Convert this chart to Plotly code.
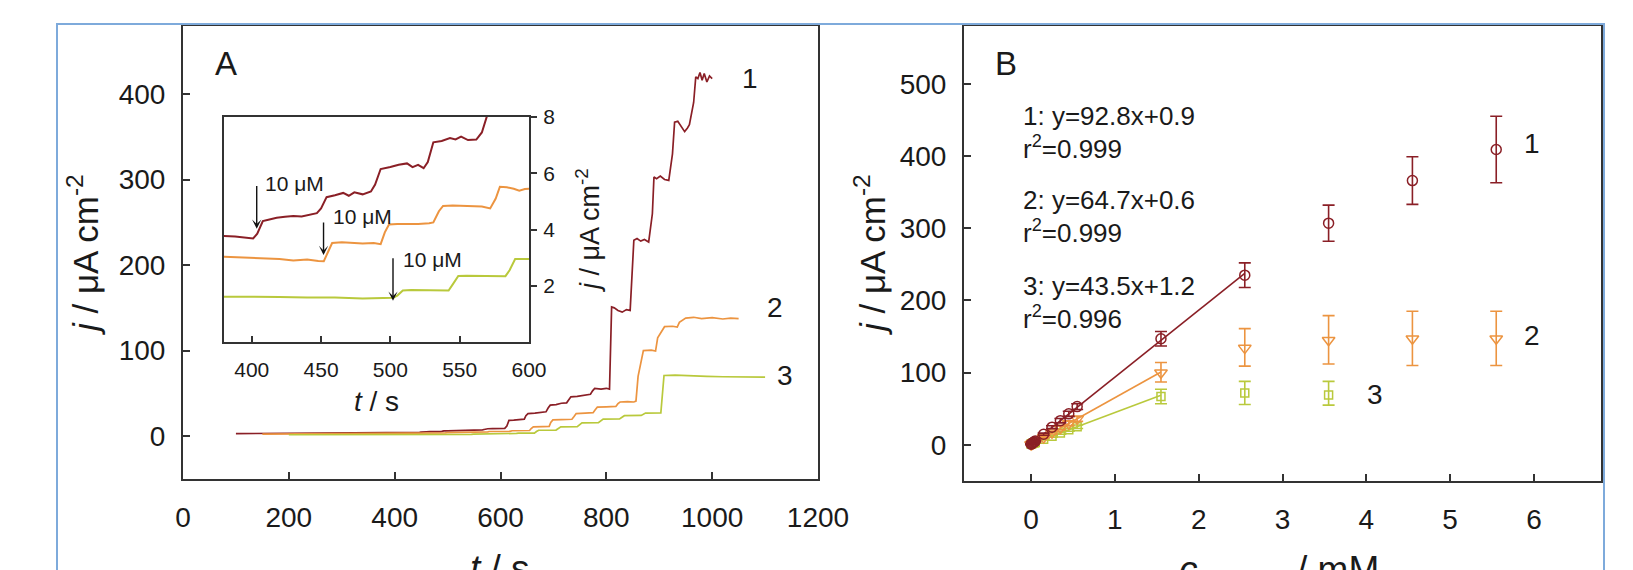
import plotly.graph_objects as go

W, H = 1633, 570

# ---------------- data: panel A (amperometric curves) ----------------
t1 = [100, 150, 200, 250, 300, 350, 380, 388, 395, 401, 404, 408, 412, 418, 424, 430, 436, 442, 447,
      450, 454, 460, 466, 470, 474, 480, 486, 489, 493, 500, 506, 512, 516, 520, 524, 527, 531, 537,
      543, 547, 551, 556, 562, 566, 569, 572, 576, 585, 600, 608, 612, 616, 625, 635, 645, 648, 652,
      665, 675, 686, 690, 694, 705, 715, 725, 729, 733, 745, 758, 770, 774, 778, 790, 800, 806, 808,
      810, 815, 822, 830, 838, 845, 849, 852, 858, 865, 872, 880, 887, 890, 895, 902, 910, 918, 925,
      929, 935, 942, 948, 953, 957, 965, 969, 973, 977, 981, 985, 990, 995, 1000]
j1 = [3.0, 3.1, 3.2, 3.3, 3.4, 3.6, 3.77, 3.75, 3.70, 3.68, 3.85, 4.30, 4.35, 4.42, 4.45, 4.48, 4.46,
      4.52, 4.58, 4.75, 5.15, 5.22, 5.30, 5.20, 5.32, 5.25, 5.35, 5.60, 6.15, 6.22, 6.30, 6.35, 6.22,
      6.30, 6.18, 6.40, 7.10, 7.15, 7.25, 7.20, 7.30, 7.18, 7.20, 7.45, 7.90, 8.40, 8.70, 8.8, 9.0, 9.2,
      12, 18.5, 18.8, 19.2, 20, 24, 26.5, 27, 28, 28.5, 33, 36.3, 37, 38.5, 39, 43, 46, 46.5, 48, 49,
      53, 55.8, 55, 56, 55, 100, 151, 150, 147, 145, 148, 147, 190, 229, 231, 228, 230, 227, 260, 303,
      301, 304, 300, 299, 330, 367, 368, 362, 356, 360, 364, 390, 420, 418, 425, 416, 424, 414, 421, 418]

t2 = [150, 200, 250, 300, 350, 380, 395, 410, 420, 430, 440, 448, 452, 455, 458, 465, 472, 480, 488,
      493, 496, 499, 505, 512, 520, 528, 531, 535, 538, 545, 552, 560, 566, 572, 576, 579, 584, 589,
      593, 597, 600, 612, 618, 622, 630, 645, 655, 658, 662, 680, 692, 695, 699, 715, 735, 739, 743,
      760, 775, 779, 783, 800, 818, 822, 826, 840, 852, 856, 860, 870, 885, 893, 897, 910, 925, 934,
      938, 950, 965, 980, 1000, 1020, 1035, 1050]
j2 = [2.5, 2.7, 2.8, 2.9, 3.0, 3.03, 3.00, 2.97, 2.95, 2.90, 2.93, 2.88, 2.87, 3.20, 3.52, 3.55, 3.52,
      3.50, 3.52, 3.48, 3.90, 4.18, 4.20, 4.19, 4.20, 4.22, 4.25, 4.65, 4.84, 4.85, 4.84, 4.85, 4.82,
      4.75, 5.10, 5.52, 5.50, 5.45, 5.38, 5.44, 5.45, 5.5, 5.6, 6.4, 6.6, 6.6, 6.7, 9, 11, 11.3, 11.5,
      16, 19, 19.3, 19.8, 23, 26.5, 27, 27.5, 31, 34, 34.3, 34.8, 38, 40, 40.5, 40, 41, 70, 100, 100.5,
      99.5, 115, 128, 128.5, 127.5, 133, 138, 139, 137.5, 138.5, 137, 138, 137.5, 137]

t3 = [200, 250, 300, 350, 380, 400, 420, 440, 460, 480, 495, 502, 505, 509, 515, 525, 535, 542, 545,
      549, 555, 565, 575, 583, 586, 590, 597, 600, 626, 630, 634, 664, 668, 672, 705, 710, 714, 745,
      750, 754, 785, 790, 794, 825, 830, 834, 866, 870, 874, 903, 906, 909, 930, 960, 990, 1020, 1050,
      1080, 1100]
j3 = [1.70, 1.65, 1.65, 1.62, 1.62, 1.60, 1.60, 1.58, 1.58, 1.55, 1.55, 1.57, 1.65, 1.83, 1.85, 1.84,
      1.82, 1.83, 2.05, 2.35, 2.36, 2.35, 2.33, 2.34, 2.55, 2.95, 2.95, 2.95, 2.96, 3.3, 3.5, 3.55, 5.5,
      7.0, 7.2, 9.5, 11, 11.2, 13.5, 15.5, 15.8, 18, 20, 20.3, 22.5, 24, 24.3, 26, 27, 27.3, 50, 71,
      71.5, 70.5, 70, 69.5, 69.5, 69, 69]

# ---------------- data: panel B (calibration) ----------------
conc = [0, 0.01, 0.02, 0.03, 0.04, 0.05, 0.15, 0.25, 0.35, 0.45, 0.55, 1.55, 2.55, 3.55, 4.55, 5.55]
jb1 = [1.0, 1.8, 2.7, 3.6, 4.4, 5.3, 14.8, 24.5, 33.5, 43, 53, 147, 235, 307, 366, 409]
eb1 = [0.5, 0.5, 0.5, 0.6, 0.6, 0.7, 1.5, 2, 3, 3.5, 4, 10, 17, 25, 33, 46]
jb2 = [0.6, 1.2, 1.9, 2.5, 3.2, 3.8, 10.3, 16.8, 23.3, 29.7, 36, 100, 134, 145, 147, 147]
eb2_plus = [0.5, 0.5, 0.5, 0.5, 0.6, 0.6, 1.2, 1.8, 2.5, 3, 3.5, 14, 27, 34, 38, 38]
eb2_minus = [0.5, 0.5, 0.5, 0.5, 0.6, 0.6, 1.2, 1.8, 2.5, 3, 3.5, 13, 25, 33, 37, 37]
conc3 = [0, 0.01, 0.02, 0.03, 0.04, 0.05, 0.15, 0.25, 0.35, 0.45, 0.55, 1.55, 2.55, 3.55]
jb3 = [1.2, 1.6, 2.1, 2.5, 2.9, 3.4, 7.7, 12, 16.4, 20.8, 25.1, 67, 72, 69]
eb3_plus = [0.4, 0.4, 0.4, 0.5, 0.5, 0.5, 1, 1.3, 1.6, 2, 2.5, 10, 16, 19]
eb3_minus = [0.4, 0.4, 0.4, 0.5, 0.5, 0.5, 1, 1.3, 1.6, 2, 2.5, 10, 16, 14]

fit1_c, fit1_j = [0, 2.55], [0.9, 237.5]
fit2_c, fit2_j = [0, 1.55], [0.6, 100.9]
fit3_c, fit3_j = [0, 1.55], [1.2, 68.6]

eq_texts = ["1: y=92.8x+0.9", "r<sup>2</sup>=0.999",
            "2: y=64.7x+0.6", "r<sup>2</sup>=0.999",
            "3: y=43.5x+1.2", "r<sup>2</sup>=0.996"]

# ---------------- style ----------------
C1, C2, C3 = "#8a1f26", "#ec9440", "#b9c93c"
FONT = "Liberation Sans, Arial, sans-serif"
TXT = "#1a1a1a"
FRAME = "#333333"


def px(X):
    return X / W


def py(Y):
    return 1 - Y / H


fig = go.Figure()

# panel A main curves
for t, j, c in [(t1, j1, C1), (t2, j2, C2), (t3, j3, C3)]:
    fig.add_trace(go.Scatter(x=t, y=j, mode="lines", line=dict(color=c, width=1.7),
                             xaxis="x", yaxis="y", showlegend=False, hoverinfo="skip"))
# inset curves
for t, j, c in [(t1, j1, C1), (t2, j2, C2), (t3, j3, C3)]:
    fig.add_trace(go.Scatter(x=t, y=j, mode="lines", line=dict(color=c, width=2),
                             xaxis="x3", yaxis="y3", showlegend=False, hoverinfo="skip"))

# panel B fit lines
for fc, fj, c in [(fit1_c, fit1_j, C1), (fit2_c, fit2_j, C2), (fit3_c, fit3_j, C3)]:
    fig.add_trace(go.Scatter(x=fc, y=fj, mode="lines", line=dict(color=c, width=1.6),
                             xaxis="x2", yaxis="y2", showlegend=False, hoverinfo="skip"))

# panel B points with error bars
fig.add_trace(go.Scatter(x=conc3, y=jb3, mode="markers", xaxis="x2", yaxis="y2", showlegend=False,
                         marker=dict(symbol="square-open", size=8, color=C3, line=dict(width=1.5)),
                         error_y=dict(type="data", array=eb3_plus, arrayminus=eb3_minus, color=C3,
                                      thickness=1.6, width=6)))
fig.add_trace(go.Scatter(x=conc, y=jb2, mode="markers", xaxis="x2", yaxis="y2", showlegend=False,
                         marker=dict(symbol="triangle-down-open", size=11, color=C2, line=dict(width=1.5)),
                         error_y=dict(type="data", array=eb2_plus, arrayminus=eb2_minus, color=C2,
                                      thickness=1.6, width=6)))
fig.add_trace(go.Scatter(x=conc, y=jb1, mode="markers", xaxis="x2", yaxis="y2", showlegend=False,
                         marker=dict(symbol="circle-open", size=10, color=C1, line=dict(width=1.5)),
                         error_y=dict(type="data", array=eb1, color=C1, thickness=1.6, width=6)))

axis_common = dict(showline=True, linecolor=FRAME, linewidth=2, mirror=True, showgrid=False,
                   zeroline=False, ticks="inside", ticklen=7, tickwidth=1.5, tickcolor=FRAME,
                   tickfont=dict(family=FONT, size=28, color=TXT))

fig.update_layout(
    width=W, height=H,
    margin=dict(l=0, r=0, t=0, b=0, autoexpand=False),
    paper_bgcolor="white", plot_bgcolor="white",
    xaxis=dict(domain=[px(183), px(818)], range=[0, 1200], tickvals=[0, 200, 400, 600, 800, 1000, 1200],
               anchor="y", ticklabelstandoff=12, **axis_common),
    yaxis=dict(domain=[py(479), py(25.5)], range=[-50, 480], tickvals=[0, 100, 200, 300, 400],
               anchor="x", ticklabelstandoff=10, **axis_common),
    xaxis2=dict(domain=[px(964), px(1601)], range=[-0.8, 6.8], tickvals=[0, 1, 2, 3, 4, 5, 6],
                anchor="y2", ticklabelstandoff=12, **axis_common),
    yaxis2=dict(domain=[py(481), py(26)], range=[-50, 580], tickvals=[0, 100, 200, 300, 400, 500],
                anchor="x2", ticklabelstandoff=10, **axis_common),
    xaxis3=dict(domain=[px(224), px(529)], range=[380, 600], tickvals=[400, 450, 500, 550, 600],
                anchor="y3", showline=True, linecolor=FRAME, linewidth=2, mirror=True, showgrid=False,
                zeroline=False, ticks="inside", ticklen=6, tickwidth=1.5, tickcolor=FRAME,
                ticklabelstandoff=8, tickfont=dict(family=FONT, size=21, color=TXT)),
    yaxis3=dict(domain=[py(342), py(117)], range=[0, 8], tickvals=[2, 4, 6, 8], side="right",
                anchor="x3", showline=True, linecolor=FRAME, linewidth=2, mirror=True, showgrid=False,
                zeroline=False, ticks="outside", ticklen=6, tickwidth=1.5, tickcolor=FRAME,
                ticklabelstandoff=2, tickfont=dict(family=FONT, size=21, color=TXT)),
)

ann = []


def text(X, Y, s, size, xanchor="center", yanchor="middle", angle=0):
    ann.append(dict(xref="paper", yref="paper", x=px(X), y=py(Y), text=s, showarrow=False,
                    xanchor=xanchor, yanchor=yanchor, textangle=angle,
                    font=dict(family=FONT, size=size, color=TXT)))


# panel letters
text(226, 63, "A", 33)
text(1006, 63, "B", 33)
# axis titles
text(83, 255, "<i>j</i> / μA cm<sup>-2</sup>", 35, angle=-90)
text(870, 255, "<i>j</i> / μA cm<sup>-2</sup>", 35, angle=-90)
text(588, 231, "<i>j</i> / μA cm<sup>-2</sup>", 27, angle=-90)
text(500, 568, "<i>t</i> / s", 37)
text(376, 401, "<i>t</i> / s", 28)
text(1279, 572, "<i>c</i><sub>glucose</sub> / mM", 37)
# curve labels panel A
text(750, 79, "1", 28)
text(775, 307, "2", 28)
text(785, 375, "3", 28)
# curve labels panel B
text(1532, 143, "1", 28)
text(1532, 336, "2", 28)
text(1375, 394, "3", 28)
# equations panel B
for s, Y in zip(eq_texts, [116, 148, 200, 232, 286, 317]):
    text(1021, Y, s, 26, xanchor="left")

# inset arrows and labels
for tx, y_tail, y_tip, lx, ly in [(403.6, 5.6, 4.03, 408.4, 5.64),
                                  (451.8, 4.3, 3.09, 457.0, 4.48),
                                  (501.9, 3.03, 1.47, 507.7, 2.95)]:
    ann.append(dict(xref="x3", yref="y3", x=tx, y=y_tip, ax=tx, ay=y_tail, axref="x3", ayref="y3",
                    showarrow=True, arrowhead=3, arrowsize=1.1, arrowwidth=1.4, arrowcolor="#111",
                    text="", standoff=0))
    ann.append(dict(xref="x3", yref="y3", x=lx, y=ly, text="10 μM", showarrow=False,
                    xanchor="left", yanchor="middle", font=dict(family=FONT, size=21, color=TXT)))

fig.update_layout(annotations=ann)

# outer blue frame
fig.add_shape(type="rect", xref="paper", yref="paper", x0=px(57), x1=px(1604), y0=-0.2, y1=py(24),
              line=dict(color="#7eaadb", width=2), fillcolor="rgba(0,0,0,0)", layer="above")

fig.write_html("out.html", config={"displayModeBar": False},
               post_script="document.body.style.margin='0';document.body.style.overflow='hidden';")
